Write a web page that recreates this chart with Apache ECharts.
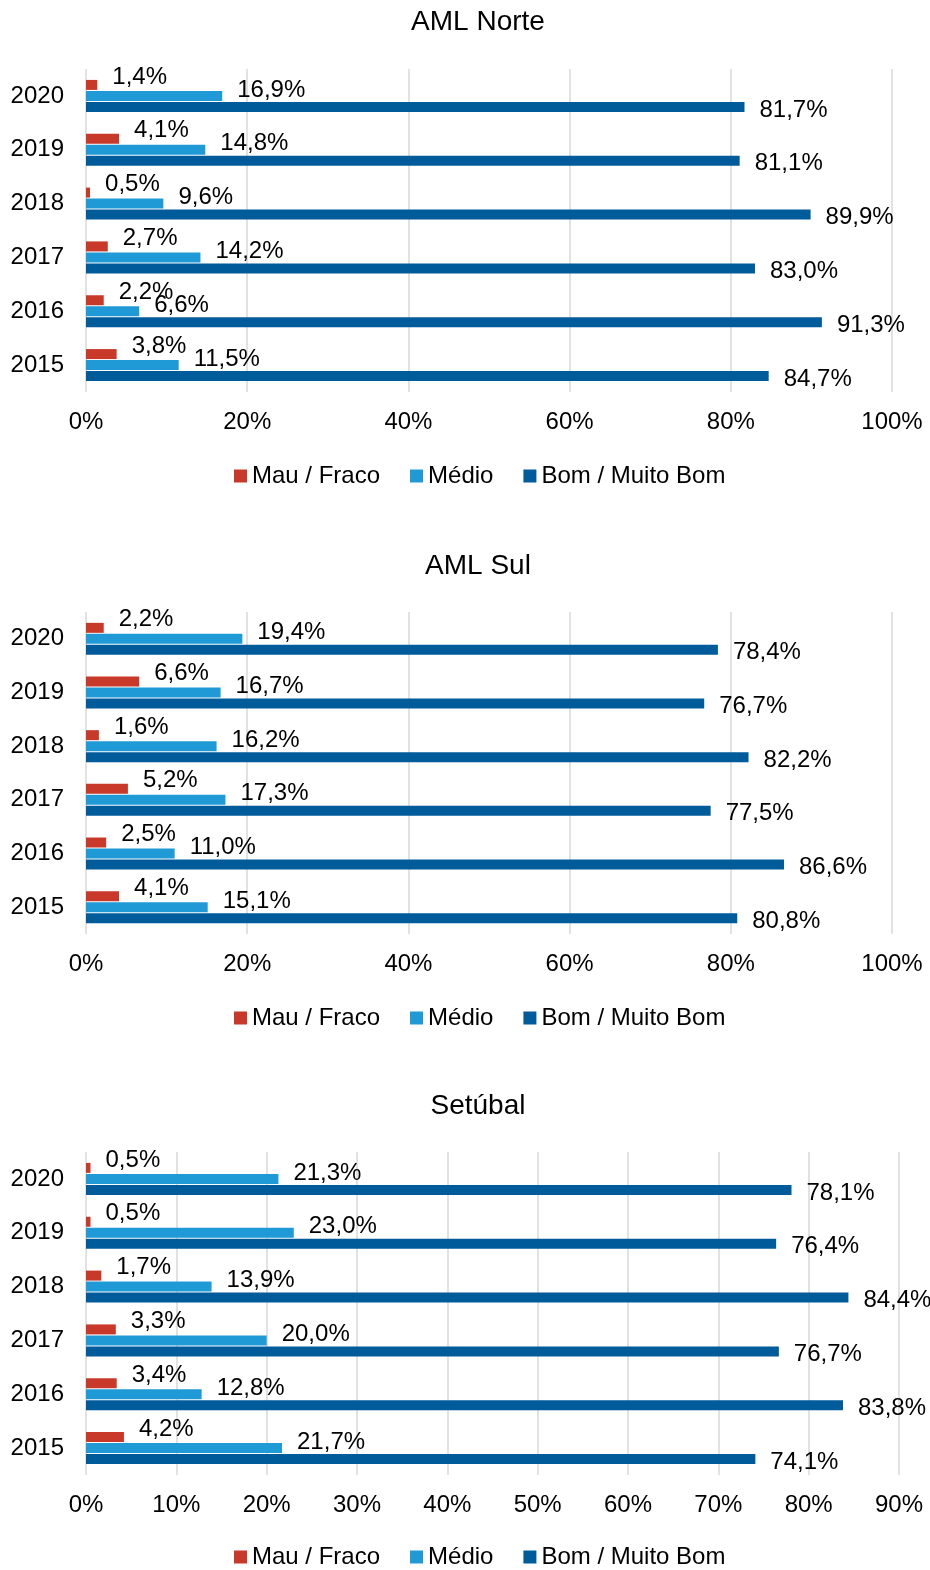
<!DOCTYPE html>
<html>
<head>
<meta charset="utf-8">
<script src="https://cdn.jsdelivr.net/npm/echarts@6/dist/echarts.min.js"></script>
<style>
html,body{margin:0;padding:0;background:#fff;}
#main{width:930px;height:1570px;}
</style>
</head>
<body>
<div id="main"></div>
<script>
// anos (de baixo para cima)
const anos = ['2015', '2016', '2017', '2018', '2019', '2020'];
const seriesNomes = ['Mau / Fraco', 'Médio', 'Bom / Muito Bom'];
const cores = ['#C8392A', '#1F9AD6', '#005B9B'];

// AML Norte
const norteMau = [3.8, 2.2, 2.7, 0.5, 4.1, 1.4];
const norteMedio = [11.5, 6.6, 14.2, 9.6, 14.8, 16.9];
const norteBom = [84.7, 91.3, 83.0, 89.9, 81.1, 81.7];
// AML Sul
const sulMau = [4.1, 2.5, 5.2, 1.6, 6.6, 2.2];
const sulMedio = [15.1, 11.0, 17.3, 16.2, 16.7, 19.4];
const sulBom = [80.8, 86.6, 77.5, 82.2, 76.7, 78.4];
// Setúbal
const setMau = [4.2, 3.4, 3.3, 1.7, 0.5, 0.5];
const setMedio = [21.7, 12.8, 20.0, 13.9, 23.0, 21.3];
const setBom = [74.1, 83.8, 76.7, 84.4, 76.4, 78.1];

const titulos = ['AML Norte', 'AML Sul', 'Setúbal'];
const eixoMax = [100, 100, 90];
const eixoIntervalo = [20, 20, 10];

const dados = [
  [norteMau, norteMedio, norteBom],
  [sulMau, sulMedio, sulBom],
  [setMau, setMedio, setBom]
];

const fonte = 'Liberation Sans, Arial, sans-serif';
const grids = [
  {left: 86, right: 38, top: 69, height: 323},
  {left: 86, right: 38, top: 612, height: 322},
  {left: 86, right: 31, top: 1152, height: 323}
];
const tituloTop = [3, 547, 1087];
const legendaTop = [459, 1001, 1540];
const labelOffset = [[0, -8], [0, -6], [0, 3]];

const fmt = p => p.value.toFixed(1).replace('.', ',') + '%';

const option = {
  backgroundColor: '#fff',
  textStyle: {fontFamily: fonte},
  title: titulos.map((t, i) => ({
    text: t, left: 473, textAlign: 'center', top: tituloTop[i],
    textStyle: {fontSize: 28, fontWeight: 'normal', color: '#000', fontFamily: fonte}
  })),
  legend: legendaTop.map((top, i) => ({
    data: seriesNomes, top: top, left: 229,
    itemWidth: 13, itemHeight: 13, itemGap: 30, icon: 'rect',
    textStyle: {fontSize: 24, color: '#000', fontFamily: fonte}
  })),
  grid: grids,
  xAxis: grids.map((g, i) => ({
    type: 'value', gridIndex: i, min: 0, max: eixoMax[i], interval: eixoIntervalo[i],
    axisLine: {show: false}, axisTick: {show: false},
    splitLine: {lineStyle: {color: '#D9D9D9', width: 1.5}},
    axisLabel: {formatter: '{value}%', fontSize: 24, color: '#000', margin: 18, fontFamily: fonte}
  })),
  yAxis: grids.map((g, i) => ({
    type: 'category', gridIndex: i, data: anos,
    axisLine: {show: false}, axisTick: {show: false},
    axisLabel: {fontSize: 24, color: '#000', margin: 22, fontFamily: fonte}
  })),
  series: []
};

dados.forEach((grupo, gi) => {
  grupo.forEach((vals, si) => {
    option.series.push({
      type: 'bar', name: seriesNomes[si], data: vals,
      xAxisIndex: gi, yAxisIndex: gi,
      barWidth: 10, barGap: '10%',
      itemStyle: {color: cores[si]},
      label: {
        show: true, position: 'right', distance: 15, offset: labelOffset[si],
        formatter: fmt, fontSize: 24, color: '#000', fontFamily: fonte
      }
    });
  });
});

const chart = echarts.init(document.getElementById('main'));
chart.setOption(option);
</script>
</body>
</html>
